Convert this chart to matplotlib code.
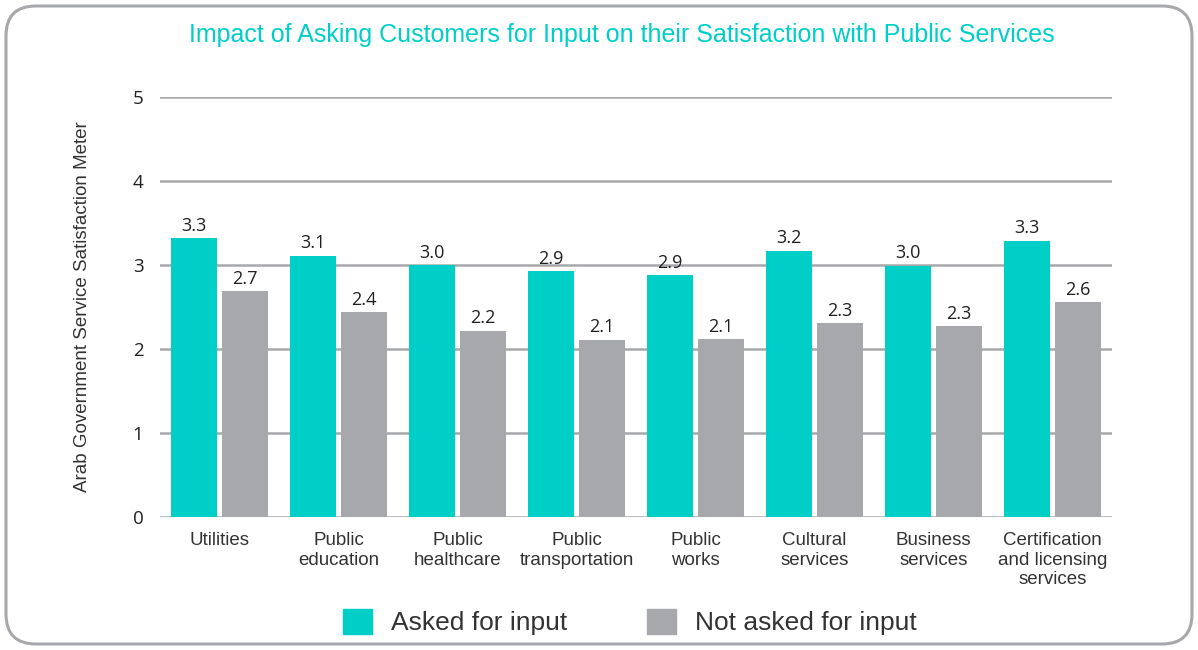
import matplotlib.pyplot as plt
import numpy as np
from matplotlib.patches import FancyBboxPatch, Patch

plt.rcParams["font.family"] = ["Open Sans", "DejaVu Sans"]

categories = [
    "Utilities",
    "Public\neducation",
    "Public\nhealthcare",
    "Public\ntransportation",
    "Public\nworks",
    "Cultural\nservices",
    "Business\nservices",
    "Certification\nand licensing\nservices",
]
asked = [3.32, 3.11, 3.00, 2.93, 2.88, 3.17, 2.99, 3.29]
not_asked = [2.69, 2.44, 2.22, 2.11, 2.12, 2.31, 2.27, 2.56]
series_names = ["Asked for input", "Not asked for input"]

cyan = "#00CFC8"
grey = "#A7A8AB"
text_color = "#231F20"
sans = ["Liberation Sans", "DejaVu Sans"]

fig = plt.figure(figsize=(11.98, 6.5), dpi=100)
ax = fig.add_axes([160 / 1198, 1 - 517 / 650, 952 / 1198, 420 / 650])

x = np.arange(len(categories))
width = 0.38
offset = 0.215
bars_a = ax.bar(x - offset, asked, width, color=cyan, zorder=3)
bars_n = ax.bar(x + offset, not_asked, width, color=grey, zorder=3)

for bars, values in [(bars_a, asked), (bars_n, not_asked)]:
    for bar, v in zip(bars, values):
        ax.text(bar.get_x() + bar.get_width() / 2, v + 0.04, f"{v:.1f}",
                ha="center", va="bottom", fontsize=13, color=text_color)

ax.set_xlim(-0.5, len(categories) - 0.5)
ax.set_ylim(0, 5)
ax.set_yticks(range(6))
ax.yaxis.grid(True, color="#A7A8AB", linewidth=1.8, zorder=0)
ax.set_axisbelow(True)
for side in ["top", "right", "left", "bottom"]:
    ax.spines[side].set_visible(False)
ax.tick_params(axis="y", length=0, pad=12, labelsize=13.5, labelcolor=text_color)
ax.tick_params(axis="x", length=0, pad=11, labelsize=13.5, labelcolor="#333333")
ax.set_xticks(x)
ax.set_xticklabels(categories, linespacing=1.2, fontfamily=sans)
ax.set_ylabel("Arab Government Service Satisfaction Meter", fontsize=13.5,
              color="#333333", fontfamily=sans)
ax.yaxis.set_label_coords(-0.072, 0.5)

fig.text(0.519, 1 - 35 / 650, "Impact of Asking Customers for Input on their Satisfaction with Public Services",
         ha="center", va="center", fontsize=18, color=cyan, fontfamily=sans)

handles = [Patch(color=cyan), Patch(color=grey)]
leg = fig.legend(handles, series_names, loc="center", bbox_to_anchor=(630 / 1198, 1 - 622 / 650),
                 ncol=2, frameon=False, handlelength=1.1, handleheight=1.1,
                 columnspacing=3.0, handletextpad=0.72,
                 prop={"family": sans, "size": 19})
for t in leg.get_texts():
    t.set_color("#333333")

frame = FancyBboxPatch((6 / 1198, 6 / 650), 1 - 12 / 1198, 1 - 12 / 650,
                       boxstyle="round,pad=0,rounding_size=0.025",
                       transform=fig.transFigure, facecolor="none",
                       edgecolor="#A7A8AB", linewidth=2.2, mutation_aspect=1198 / 650)
fig.patches.append(frame)

fig.savefig("out.png", dpi=100)
